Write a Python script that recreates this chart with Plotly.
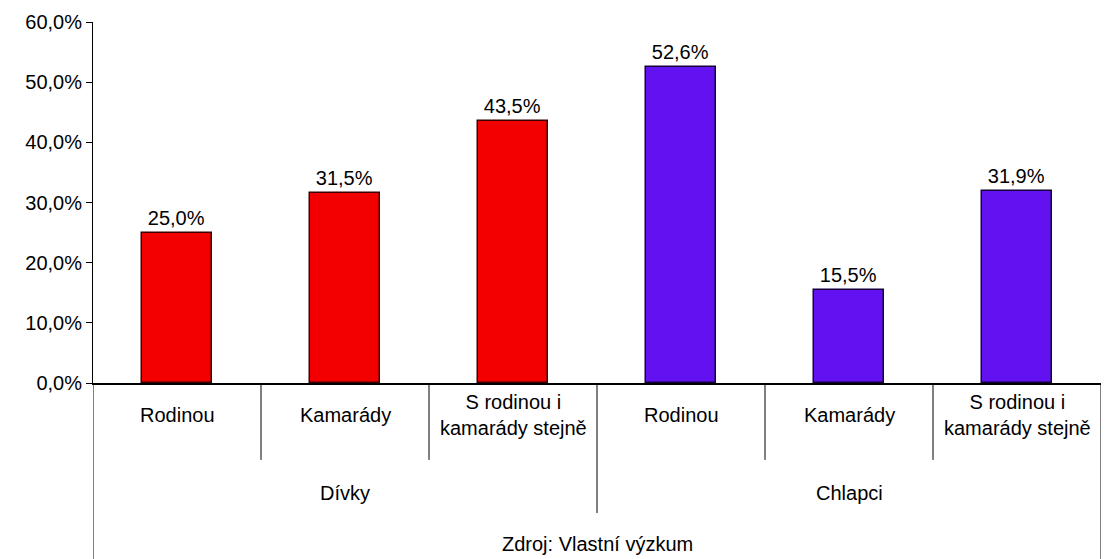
import plotly.graph_objects as go

groups = ["Dívky", "Chlapci"]
subcats = ["Rodinou", "Kamarády", "S rodinou i<br>kamarády stejně"]
girls = [0.250, 0.315, 0.435]
boys = [0.526, 0.155, 0.319]
source = "Zdroj: Vlastní výzkum"

red = "#F20000"
blue = "#6212F0"
font = "Liberation Sans, Arial, sans-serif"
fs = 20

x_girls = [0.5, 1.5, 2.5]
x_boys = [3.5, 4.5, 5.5]

fig = go.Figure()
for xs, vals, col, edge in [(x_girls, girls, red, "#3a0000"), (x_boys, boys, blue, "#14003a")]:
    fig.add_trace(go.Bar(
        x=xs, y=vals, width=0.42,
        marker=dict(color=col, line=dict(color=edge, width=1.5)),
        text=[f"{v*100:.1f}%".replace(".", ",") for v in vals],
        textposition="outside", cliponaxis=False,
        textfont=dict(size=fs, color="black", family=font),
        showlegend=False, hoverinfo="skip",
    ))

shapes = []
for xv, ybot in [(0, -0.49), (6, -0.49), (3, -0.36), (1, -0.213), (2, -0.213), (4, -0.213), (5, -0.213)]:
    shapes.append(dict(type="line", xref="x", yref="paper", x0=xv, x1=xv, y0=0, y1=ybot,
                       line=dict(color="black", width=1)))

annotations = []
all_x = x_girls + x_boys
for i, xv in enumerate(all_x):
    annotations.append(dict(x=xv, y=-0.088, xref="x", yref="paper", text=subcats[i % 3],
                            showarrow=False, font=dict(size=fs, family=font, color="black"),
                            yanchor="middle", align="center"))
for g, xv in zip(groups, [1.5, 4.5]):
    annotations.append(dict(x=xv, y=-0.305, xref="x", yref="paper", text=g, showarrow=False,
                            font=dict(size=fs, family=font, color="black"), yanchor="middle"))
annotations.append(dict(x=3, y=-0.447, xref="x", yref="paper", text=source, showarrow=False,
                        font=dict(size=fs, family=font, color="black"), yanchor="middle"))

fig.update_layout(
    width=1105, height=559,
    margin=dict(l=93, r=4, t=22, b=176),
    paper_bgcolor="white", plot_bgcolor="white",
    separators=",.",
    bargap=0,
    shapes=shapes, annotations=annotations,
    font=dict(family=font, size=fs, color="black"),
    xaxis=dict(range=[0, 6], showticklabels=False, showgrid=False, zeroline=False,
               showline=True, linecolor="black", linewidth=2, ticks=""),
    yaxis=dict(range=[0, 0.6], dtick=0.1, tickformat=".1%", showgrid=False, zeroline=False,
               showline=True, linecolor="black", linewidth=1, ticks="outside", ticklen=6,
               tickcolor="black", tickfont=dict(size=fs, family=font, color="black")),
)

fig.write_html("out.html", config={"displayModeBar": False},
               post_script="document.body.style.margin='0px';")
